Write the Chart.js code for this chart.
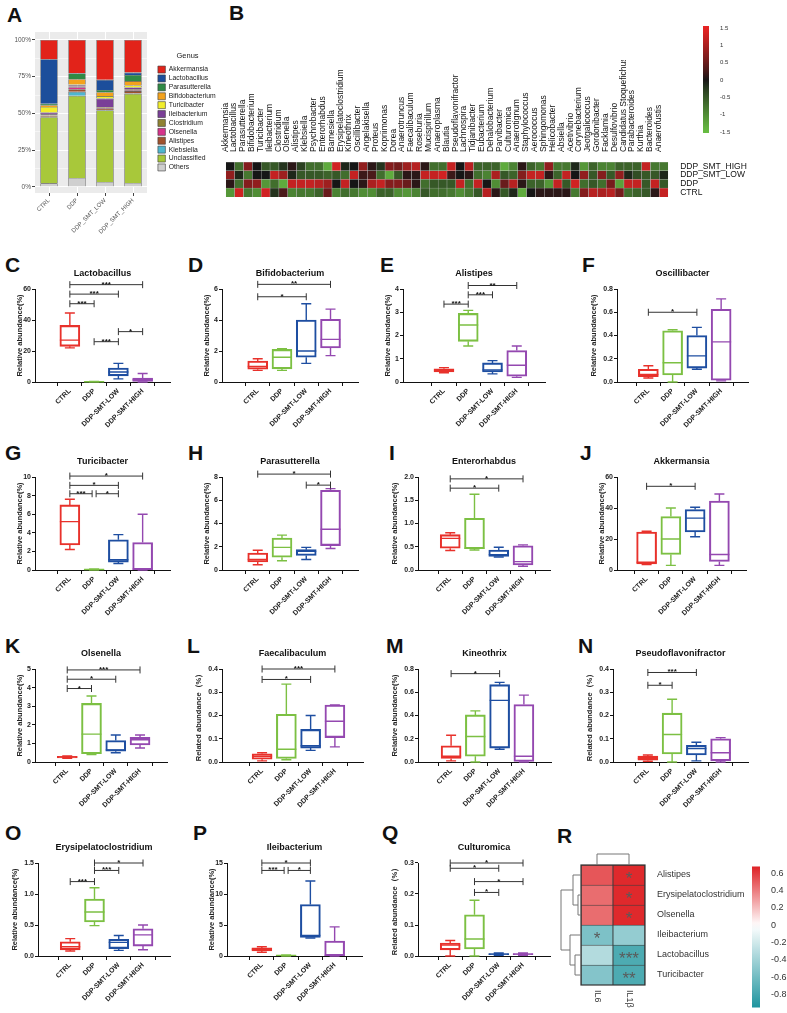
<!DOCTYPE html>
<html>
<head>
<meta charset="utf-8">
<script src="https://cdn.jsdelivr.net/npm/chart.js@4.4.1/dist/chart.umd.min.js"></script>
<style>
  html, body { margin: 0; padding: 0; background: #fff; }
  body { position: relative; width: 787px; height: 1013px; overflow: hidden; font-family: "Liberation Sans", Arial, sans-serif; }
  canvas { position: absolute; }
  .tag { position: absolute; font-weight: bold; font-size: 21px; line-height: 21px; color: #111; }
</style>
</head>
<body>
<div class="tag" style="left:7px;top:4px">A</div>
<div class="tag" style="left:229px;top:2px">B</div>
<div class="tag" style="left:5px;top:254px">C</div>
<div class="tag" style="left:188px;top:254px">D</div>
<div class="tag" style="left:380px;top:254px">E</div>
<div class="tag" style="left:582px;top:254px">F</div>
<div class="tag" style="left:5px;top:442px">G</div>
<div class="tag" style="left:188px;top:442px">H</div>
<div class="tag" style="left:389px;top:442px">I</div>
<div class="tag" style="left:580px;top:442px">J</div>
<div class="tag" style="left:5px;top:635px">K</div>
<div class="tag" style="left:187px;top:635px">L</div>
<div class="tag" style="left:386px;top:635px">M</div>
<div class="tag" style="left:578px;top:635px">N</div>
<div class="tag" style="left:5px;top:822px">O</div>
<div class="tag" style="left:193px;top:822px">P</div>
<div class="tag" style="left:382px;top:822px">Q</div>
<div class="tag" style="left:557px;top:825px">R</div>
<script>
// ---- A: genus composition (% per group), stacked bottom -> top
const aGroups = ['CTRL', 'DDP', 'DDP_SMT_LOW', 'DDP_SMT_HIGH'];
const pctOthers = [2.5, 6.1, 3.4, 2.7];
const pctUnclassified = [45.0, 55.9, 48.6, 60.6];
const pctKlebsiella = [0.2, 2.7, 0.3, 0.2];
const pctAlistipes = [0.8, 1.8, 0.9, 1.7];
const pctOlsenella = [0.1, 1.4, 0.5, 0.6];
const pctClostridium = [0.8, 0.5, 0.6, 0.6];
const pctIleibacterium = [1.2, 0.8, 5.8, 1.3];
const pctTuricibacter = [3.8, 0.5, 1.7, 1.3];
const pctBifidobacterium = [1.2, 3.6, 2.7, 3.0];
const pctParasutterella = [1.0, 3.9, 1.5, 4.2];
const pctLactobacillus = [30.3, 0.3, 6.9, 1.6];
const pctAkkermansia = [13.1, 22.5, 27.1, 22.2];

// ---- B: z-scores per genus
const genera = ['Akkermansia', 'Lactobacillus', 'Parasutterella', 'Bifidobacterium', 'Turicibacter', 'Ileibacterium',
  'Clostridium', 'Olsenella', 'Alistipes', 'Klebsiella', 'Psychrobacter', 'Enterorhabdus', 'Barnesiella',
  'Erysipelatoclostridium', 'Kineothrix', 'Oscillibacter', 'Angelakisella', 'Proteus', 'Kopriimonas', 'Dorea',
  'Anaerotruncus', 'Faecalibaculum', 'Roseburia', 'Mucispirillum', 'Anaeroplasma', 'Blautia', 'Pseudoflavonifractor',
  'Lachnospira', 'Tidjanibacter', 'Eubacterium', 'Dehalobacterium', 'Parvibacter', 'Culturomica', 'Anaerotignum',
  'Staphylococcus', 'Aerococcus', 'Sphingomonas', 'Helicobacter', 'Absiella', 'Acetivibrio', 'Corynebacterium',
  'Jeotgalicoccus', 'Gordonibacter', 'Facklamia', 'Desulfovibrio', 'Candidatus Stoquefichus', 'Parabacteroides',
  'Kurthia', 'Bacteroides', 'Anaerofustis'];
const hmRows = ['CTRL', 'DDP', 'DDP_SMT_LOW', 'DDP_SMT_HIGH'];
const zCtrl = [-1.1, 1.3, -0.8, -1.0, 1.3, -0.2, 0.3, -0.9, -0.8, -0.8,
  -0.6, 0.5, -0.9, -0.7, -0.8, -1.0, -1.0, -0.6, -0.6, -1.0,
  -1.1, -0.9, -0.5, -0.7, -0.7, -0.8, -1.0, -0.8, -0.5, 1.1,
  0.1, -0.5, -0.1, -1.3, 0, 0.1, 0.1, 0.1, 0.1, -0.8,
  0.7, 1.1, 1.0, 1.1, 0.6, -0.7, -0.6, -0.5, 0.1, 1.2];
const zDdp = [0.1, -0.7, 0.7, 0.8, -1.1, -0.7, -1.3, 1.2, 1.2, 1.2,
  1.1, 0.9, 0, 1.2, 0, 0.1, 1.0, 1.2, 0.7, 0.7,
  0.5, 0.1, -0.7, -0.5, -0.5, -0.5, 1.2, -0.7, 1.2, 0,
  -1.0, 0.5, 1.1, 0.1, -0.6, -0.6, -1.1, 1.2, -0.5, 1.3,
  -0.7, -0.5, -0.7, 0.6, -1.2, 1.2, 1.2, -0.5, 1.2, -0.5];
const zLow = [0.8, -0.1, -0.8, 0, 0, 1.2, 0.9, -0.1, -0.5, -0.5,
  -0.5, -0.6, -0.5, -0.7, 1.2, 0.2, 0.3, -0.7, -1.3, -0.5,
  0.1, 0.1, 1.2, 1.2, 1.3, 0.2, 0, 0.1, -0.7, -0.9,
  1.0, -0.5, -0.6, 0.7, 1.2, 1.2, 0.1, -0.6, 1.2, 0,
  0.8, -0.5, 0.7, -0.5, 0.8, -0.1, -0.4, -0.5, -0.5, -0.1];
const zHigh = [0, -0.7, 0.7, 0, -0.5, -0.5, -0.2, 0.1, -0.3, -0.7,
  -0.7, -1.3, 1.3, -0.1, 0, 0.8, 0.1, -0.2, 0.7, 0.6,
  0.9, 1.1, 0.1, -0.7, -0.7, 1.2, 0, 1.1, -0.6, -0.6,
  -0.6, -1.3, -0.9, 0.1, -0.6, -0.8, 0.8, -0.8, -0.8, -0.1,
  -1.1, -0.6, -0.9, -0.9, -0.6, -0.6, -0.6, 1.2, -0.8, -0.8];
const cbTicksB = [-1.5, -1, -0.5, 0, 0.5, 1, 1.5];

// ---- C..Q: box stats per group [min, q1, median, q3, max]; brackets [from, to, y, label]
const groups = ['CTRL', 'DDP', 'DDP-SMT-LOW', 'DDP-SMT-HIGH'];
const lactobacillusBox = [[22, 23, 27, 36.5, 44.5], [0, 0.1, 0.2, 0.3, 0.4], [2, 4, 6.5, 9, 12], [0, 0.3, 1.5, 2.5, 5.5]];
const lactobacillusSig = [[0, 3, 62.8, '***'], [0, 2, 56.7, '***'], [0, 1, 50.5, '***'], [1, 2, 26, '***'], [2, 3, 32.5, '*']];
const bifidobacteriumBox = [[0.75, 0.82, 1.0, 1.35, 1.5], [0.75, 0.85, 1.6, 2.1, 2.15], [1.2, 1.6, 2.0, 4.0, 5.05], [1.7, 2.2, 2.75, 4.05, 4.7]];
const bifidobacteriumSig = [[0, 3, 6.3, '**'], [0, 2, 5.5, '*']];
const alistipesBox = [[0.4, 0.43, 0.5, 0.57, 0.62], [1.55, 1.75, 2.45, 2.95, 3.08], [0.35, 0.43, 0.52, 0.82, 0.92], [0.2, 0.25, 0.72, 1.35, 1.55]];
const alistipesSig = [[1, 3, 4.15, '**'], [1, 2, 3.75, '***'], [0, 1, 3.35, '***']];
const oscillibacterBox = [[0.035, 0.045, 0.065, 0.11, 0.14], [0, 0.06, 0.165, 0.44, 0.45], [0.11, 0.12, 0.225, 0.4, 0.47], [0.01, 0.015, 0.345, 0.625, 0.715]];
const oscillibacterSig = [[0, 2, 0.6, '*']];
const turicibacterBox = [[2.2, 2.7, 5.2, 7.0, 7.6], [0, 0.02, 0.05, 0.08, 0.1], [0.7, 0.85, 1.1, 3.25, 3.8], [0, 0.02, 0.1, 2.95, 6.0]];
const turicibacterSig = [[0, 3, 10.1, '*'], [0, 2, 9.1, '*'], [0, 1, 8.2, '***'], [1, 2, 8.2, '*']];
const parasutterellaBox = [[0.45, 0.7, 0.9, 1.45, 1.7], [0.8, 1.1, 1.95, 2.75, 3.0], [0.9, 1.25, 1.6, 1.75, 1.95], [1.85, 2.1, 3.5, 6.85, 7.0]];
const parasutterellaSig = [[0, 3, 8.25, '*'], [2, 3, 7.3, '*']];
const enterorhabdusBox = [[0.42, 0.47, 0.68, 0.76, 0.8], [0.43, 0.46, 0.47, 1.11, 1.63], [0.28, 0.29, 0.33, 0.43, 0.49], [0.08, 0.11, 0.18, 0.52, 0.54]];
const enterorhabdusSig = [[0, 3, 1.96, '*'], [0, 2, 1.76, '*']];
const akkermansiaBox = [[3.5, 4, 5, 24.5, 25], [3, 10, 20, 34.5, 40], [21.5, 24.5, 33.5, 39, 40.5], [3, 5.5, 10, 44.5, 49]];
const akkermansiaSig = [[0, 2, 54, '*']];
const olsenellaBox = [[0.2, 0.22, 0.27, 0.3, 0.32], [0.4, 0.45, 1.5, 3.15, 3.55], [0.5, 0.58, 0.65, 1.15, 1.45], [0.75, 0.92, 1.2, 1.32, 1.45]];
const olsenellaSig = [[0, 3, 4.95, '***'], [0, 2, 4.45, '*'], [0, 1, 3.95, '*']];
const faecalibaculumBox = [[0.005, 0.012, 0.025, 0.035, 0.04], [0.01, 0.015, 0.055, 0.205, 0.335], [0.05, 0.06, 0.07, 0.14, 0.2], [0.065, 0.105, 0.175, 0.245, 0.245]];
const faecalibaculumSig = [[0, 3, 0.4, '***'], [0, 2, 0.355, '*']];
const kineothrixBox = [[0.01, 0.03, 0.05, 0.14, 0.23], [0, 0.05, 0.22, 0.405, 0.44], [0.11, 0.12, 0.53, 0.665, 0.685], [0, 0.005, 0.05, 0.495, 0.575]];
const kineothrixSig = [[0, 2, 0.76, '*']];
const pseudoflavonifractorBox = [[0.003, 0.008, 0.015, 0.025, 0.03], [0, 0.035, 0.118, 0.21, 0.27], [0.005, 0.03, 0.058, 0.072, 0.085], [0, 0.005, 0.04, 0.1, 0.105]];
const pseudoflavonifractorSig = [[0, 2, 0.385, '***'], [0, 1, 0.33, '*']];
const erysipelatoclostridiumBox = [[0.08, 0.1, 0.15, 0.23, 0.28], [0.49, 0.55, 0.71, 0.92, 1.1], [0.09, 0.12, 0.22, 0.27, 0.33], [0.1, 0.16, 0.34, 0.44, 0.5]];
const erysipelatoclostridiumSig = [[1, 3, 1.5, '*'], [1, 2, 1.38, '***'], [0, 1, 1.2, '***']];
const ileibacteriumBox = [[0.6, 0.8, 1.1, 1.3, 1.5], [0, 0.05, 0.1, 0.12, 0.15], [2.9, 3.0, 3.3, 8.3, 12.1], [0, 0.05, 0.1, 2.4, 4.7]];
const ileibacteriumSig = [[0, 2, 15, '*'], [0, 1, 13.8, '***'], [1, 2, 13.8, '*']];
const culturomicaBox = [[0, 0.02, 0.035, 0.042, 0.05], [0, 0.023, 0.055, 0.133, 0.18], [0.002, 0.004, 0.006, 0.008, 0.01], [0.002, 0.004, 0.006, 0.008, 0.01]];
const culturomicaSig = [[0, 3, 0.3, '*'], [0, 2, 0.283, '*'], [1, 3, 0.24, '*'], [1, 2, 0.205, '*']];

// ---- R: correlation with cytokines
const rGenera = ['Alistipes', 'Erysipelatoclostridium', 'Olsenella', 'Ileibacterium', 'Lactobacillus', 'Turicibacter'];
const rCytokines = ['IL6', 'IL1β'];
const rIL6 = [0.52, 0.45, 0.45, -0.55, -0.32, -0.52];
const rIL1b = [0.66, 0.66, 0.66, -0.45, -0.75, -0.75];
const rStarsIL6 = ['', '', '', '*', '', ''];
const rStarsIL1b = ['*', '*', '*', '', '***', '**'];
const cbTicksR = [-0.8, -0.6, -0.4, -0.2, 0, 0.2, 0.4, 0.6];

// ------------------------------------------------------------------
Chart.defaults.font.family = '"Liberation Sans", Arial, sans-serif';
Chart.defaults.animation = false;
Chart.defaults.responsive = false;
Chart.defaults.events = [];
Chart.defaults.plugins.legend.display = false;
Chart.defaults.plugins.tooltip.enabled = false;

function addCanvas(left, top, w, h) {
  const c = document.createElement('canvas');
  c.width = Math.round(w); c.height = Math.round(h);
  c.style.left = Math.round(left) + 'px';
  c.style.top = Math.round(top) + 'px';
  document.body.appendChild(c);
  return c;
}

function mix(a, b, t) {
  return 'rgb(' + a.map((v, i) => Math.round(v + (b[i] - v) * t)).join(',') + ')';
}
function colorB(v) {
  const t = Math.pow(Math.min(1, Math.abs(v) / 1.5), 0.85);
  return mix([22, 22, 22], v < 0 ? [104, 190, 66] : [232, 36, 36], t);
}
function colorR(v) {
  return v >= 0 ? mix([255, 255, 255], [222, 34, 38], Math.min(1, v / 0.68))
                : mix([255, 255, 255], [30, 148, 158], Math.min(1, -v / 0.95));
}

// ---- panel A
const genusColors = {
  Akkermansia: '#e2231a', Lactobacillus: '#1c4e9b', Parasutterella: '#2f8a45', Bifidobacterium: '#f3a21c',
  Turicibacter: '#f2ee2c', Ileibacterium: '#7a3f97', Clostridium: '#8f8232', Olsenella: '#d6338b',
  Alistipes: '#a0522d', Klebsiella: '#4eb6cf', Unclassified: '#a8c83a', Others: '#cfcfcf'
};
const aSeries = [['Others', pctOthers], ['Unclassified', pctUnclassified], ['Klebsiella', pctKlebsiella],
  ['Alistipes', pctAlistipes], ['Olsenella', pctOlsenella], ['Clostridium', pctClostridium],
  ['Ileibacterium', pctIleibacterium], ['Turicibacter', pctTuricibacter], ['Bifidobacterium', pctBifidobacterium],
  ['Parasutterella', pctParasutterella], ['Lactobacillus', pctLactobacillus], ['Akkermansia', pctAkkermansia]];

const panelBg = {
  id: 'panelBg',
  beforeDraw(chart, args, opts) {
    const { ctx, chartArea: a } = chart;
    ctx.save();
    ctx.fillStyle = opts.color;
    ctx.fillRect(a.left, a.top, a.width, a.height);
    ctx.restore();
  }
};

new Chart(addCanvas(0, 0, 221, 250), {
  type: 'bar',
  data: {
    labels: aGroups,
    datasets: aSeries.map(([name, vals]) => ({
      label: name, data: vals, backgroundColor: genusColors[name],
      borderColor: '#3a3a3a', borderWidth: 0.6, barPercentage: 0.62, categoryPercentage: 1
    }))
  },
  options: {
    layout: { padding: { top: 32, right: 2 } },
    plugins: {
      panelBg: { color: '#ebebeb' },
      legend: {
        display: true, position: 'right', fullSize: false, reverse: true, maxWidth: 63, align: 'center',
        title: { display: true, text: 'Genus', color: '#222', font: { size: 7.5 }, padding: { top: 0, bottom: 3 } },
        labels: { boxWidth: 7.5, boxHeight: 7, padding: 1.9, color: '#222', font: { size: 6.8 } }
      }
    },
    scales: {
      x: {
        stacked: true,
        grid: { color: '#fff', offset: false, tickLength: 3, tickColor: '#444' },
        border: { display: false },
        ticks: { minRotation: 45, maxRotation: 45, color: '#555', font: { size: 6 }, padding: 1 },
        afterFit: s => { s.height = 57; }
      },
      y: {
        stacked: true, min: -4.1, max: 105.4,
        afterBuildTicks: s => { s.ticks = [0, 12.5, 25, 37.5, 50, 62.5, 75, 87.5, 100].map(v => ({ value: v })); },
        ticks: { autoSkip: false, callback: v => (v % 25 === 0 ? v + '%' : ''), color: '#555', font: { size: 6.5 }, padding: 1 },
        grid: {
          color: '#fff', tickLength: 3,
          lineWidth: c => (c.tick && c.tick.value % 25 === 0 ? 1 : 0.5),
          tickColor: c => (c.tick && c.tick.value % 25 === 0 ? '#444' : 'rgba(0,0,0,0)')
        },
        border: { display: false },
        afterFit: s => { s.width = 35; }
      },
      yPad: {
        position: 'right', grid: { display: false }, border: { display: false }, ticks: { display: false },
        afterFit: s => { s.width = 9; }
      }
    }
  },
  plugins: [panelBg]
});

// ---- panel B heatmap
const hmVals = [zCtrl, zDdp, zLow, zHigh];
new Chart(addCanvas(218, 60, 569, 146), {
  type: 'bar',
  data: {
    labels: genera,
    datasets: hmRows.map((r, k) => ({
      label: r, data: hmVals[k].map(() => 1), backgroundColor: hmVals[k].map(colorB),
      borderColor: '#b4b4b4', borderWidth: 0.5, barPercentage: 1, categoryPercentage: 1
    }))
  },
  options: {
    layout: { padding: { left: 6.7, bottom: 6 } },
    scales: {
      x: {
        position: 'top', stacked: true, grid: { display: false }, border: { display: false },
        ticks: { autoSkip: false, minRotation: 90, maxRotation: 90, labelOffset: 5.1, color: '#111', font: { size: 8.5 }, padding: 2 },
        afterFit: s => { s.height = 102; }
      },
      y: {
        position: 'right', stacked: true, min: 0, max: 4,
        afterBuildTicks: s => { s.ticks = hmRows.map((r, k) => ({ value: k + 0.5 })); },
        ticks: { autoSkip: false, callback: v => hmRows[Math.floor(v)], color: '#111', font: { size: 8.5 }, padding: 4 },
        grid: { display: false }, border: { display: false },
        afterFit: s => { s.width = 118.8; }
      }
    }
  }
});

function colorBar(left, top, width, height, lo, hi, tickVals, colorFn, fontSize, axisW) {
  const pad = 8;
  new Chart(addCanvas(left, top - pad, width + axisW, height + 2 * pad), {
    type: 'bar',
    data: {
      labels: [''],
      datasets: [{
        data: [[lo, hi]], barPercentage: 1, categoryPercentage: 1, borderWidth: 0,
        backgroundColor: c => {
          const ch = c.chart;
          if (!ch.chartArea) return null;
          const y = ch.scales.y;
          const g = ch.ctx.createLinearGradient(0, y.getPixelForValue(lo), 0, y.getPixelForValue(hi));
          for (let k = 0; k <= 20; k++) g.addColorStop(k / 20, colorFn(lo + (hi - lo) * k / 20));
          return g;
        }
      }]
    },
    options: {
      layout: { padding: { top: pad, bottom: pad } },
      scales: {
        x: { display: false },
        y: {
          position: 'right', min: lo, max: hi,
          afterBuildTicks: s => { s.ticks = tickVals.map(v => ({ value: v })); },
          ticks: { autoSkip: false, callback: v => String(v), color: '#333', font: { size: fontSize }, padding: 3 },
          grid: { display: false }, border: { display: false },
          afterFit: s => { s.width = axisW; }
        }
      }
    }
  });
}
colorBar(703, 26, 6, 107, -1.53, 1.56, cbTicksB, colorB, 6, 24);

// ---- box plots C..Q
const groupColors = ['#e8312b', '#7cc043', '#1e4ea1', '#9448b0'];
const relTitle = 'Relative abundance(%)';
const relTitle2 = 'Related abundance（%）';
const boxPanels = [
  { tag: 'C', title: 'Lactobacillus', stats: lactobacillusBox, sig: lactobacillusSig, yMax: 60, yStep: 20, dec: 0, yTitle: relTitle },
  { tag: 'D', title: 'Bifidobacterium', stats: bifidobacteriumBox, sig: bifidobacteriumSig, yMax: 6, yStep: 2, dec: 0, yTitle: relTitle },
  { tag: 'E', title: 'Alistipes', stats: alistipesBox, sig: alistipesSig, yMax: 4, yStep: 1, dec: 0, yTitle: relTitle },
  { tag: 'F', title: 'Oscillibacter', stats: oscillibacterBox, sig: oscillibacterSig, yMax: 0.8, yStep: 0.2, dec: 1, yTitle: relTitle },
  { tag: 'G', title: 'Turicibacter', stats: turicibacterBox, sig: turicibacterSig, yMax: 10, yStep: 2, dec: 0, yTitle: relTitle },
  { tag: 'H', title: 'Parasutterella', stats: parasutterellaBox, sig: parasutterellaSig, yMax: 8, yStep: 2, dec: 0, yTitle: relTitle },
  { tag: 'I', title: 'Enterorhabdus', stats: enterorhabdusBox, sig: enterorhabdusSig, yMax: 2, yStep: 0.5, dec: 1, yTitle: relTitle },
  { tag: 'J', title: 'Akkermansia', stats: akkermansiaBox, sig: akkermansiaSig, yMax: 60, yStep: 20, dec: 0, yTitle: relTitle },
  { tag: 'K', title: 'Olsenella', stats: olsenellaBox, sig: olsenellaSig, yMax: 5, yStep: 1, dec: 0, yTitle: relTitle },
  { tag: 'L', title: 'Faecalibaculum', stats: faecalibaculumBox, sig: faecalibaculumSig, yMax: 0.4, yStep: 0.1, dec: 1, yTitle: relTitle2 },
  { tag: 'M', title: 'Kineothrix', stats: kineothrixBox, sig: kineothrixSig, yMax: 0.8, yStep: 0.2, dec: 1, yTitle: relTitle },
  { tag: 'N', title: 'Pseudoflavonifractor', stats: pseudoflavonifractorBox, sig: pseudoflavonifractorSig, yMax: 0.4, yStep: 0.1, dec: 1, yTitle: relTitle2 },
  { tag: 'O', title: 'Erysipelatoclostridium', stats: erysipelatoclostridiumBox, sig: erysipelatoclostridiumSig, yMax: 1.5, yStep: 0.5, dec: 1, yTitle: relTitle },
  { tag: 'P', title: 'Ileibacterium', stats: ileibacteriumBox, sig: ileibacteriumSig, yMax: 15, yStep: 5, dec: 0, yTitle: relTitle },
  { tag: 'Q', title: 'Culturomica', stats: culturomicaBox, sig: culturomicaSig, yMax: 0.3, yStep: 0.1, dec: 1, yTitle: relTitle2 }
];
// axis x, first category centre, top tick y
const boxLayout = {
  C: { ax: 35, c0: 59, ty: 289 }, D: { ax: 222, c0: 247, ty: 289 }, E: { ax: 403, c0: 434, ty: 289 }, F: { ax: 617, c0: 637, ty: 289 },
  G: { ax: 35, c0: 59, ty: 477 }, H: { ax: 222, c0: 247, ty: 477 }, I: { ax: 418, c0: 439, ty: 477 }, J: { ax: 617, c0: 635, ty: 477 },
  K: { ax: 35, c0: 56, ty: 669 }, L: { ax: 222, c0: 252, ty: 669 }, M: { ax: 418, c0: 440, ty: 669 }, N: { ax: 613, c0: 637, ty: 669 },
  O: { ax: 38, c0: 59, ty: 863 }, P: { ax: 227, c0: 251, ty: 863 }, Q: { ax: 418, c0: 439, ty: 863 }
};
const SP = 32.4, PH = 93, YW = 34, TOPH = 30, XH = 56, PR = 14, TAIL = 14;

const boxPlugin = {
  id: 'boxWhiskers',
  afterDatasetsDraw(chart, args, opts) {
    const { ctx, scales: { x, y } } = chart;
    ctx.save();
    ctx.lineWidth = 1.4;
    opts.stats.forEach((s, i) => {
      const cx = x.getPixelForValue(i);
      const py = s.map(v => y.getPixelForValue(v));
      ctx.strokeStyle = groupColors[i];
      ctx.beginPath();
      ctx.moveTo(cx, py[3]); ctx.lineTo(cx, py[4]);
      ctx.moveTo(cx - 5, py[4]); ctx.lineTo(cx + 5, py[4]);
      ctx.moveTo(cx, py[1]); ctx.lineTo(cx, py[0]);
      ctx.moveTo(cx - 5, py[0]); ctx.lineTo(cx + 5, py[0]);
      ctx.moveTo(cx - 10, py[2]); ctx.lineTo(cx + 10, py[2]);
      ctx.stroke();
    });
    ctx.strokeStyle = '#333';
    ctx.fillStyle = '#111';
    ctx.lineWidth = 1;
    ctx.font = 'bold 8px "Liberation Sans", Arial, sans-serif';
    ctx.textAlign = 'center';
    ctx.textBaseline = 'alphabetic';
    opts.sig.forEach(([a, b, v, label]) => {
      const shared = opts.sig.filter(o => o[2] === v);
      let x1 = x.getPixelForValue(a), x2 = x.getPixelForValue(b);
      if (shared.some(o => o[0] === b)) x2 -= 2;
      if (shared.some(o => o[1] === a)) x1 += 2;
      const yy = y.getPixelForValue(v);
      ctx.beginPath();
      ctx.moveTo(x1, yy); ctx.lineTo(x2, yy);
      ctx.moveTo(x1, yy - 3.5); ctx.lineTo(x1, yy + 3.5);
      ctx.moveTo(x2, yy - 3.5); ctx.lineTo(x2, yy + 3.5);
      ctx.stroke();
      ctx.fillText(label, (x1 + x2) / 2, yy + 2);
    });
    ctx.restore();
  }
};

boxPanels.forEach(p => {
  const L = boxLayout[p.tag];
  const plotW = (L.c0 - L.ax) + 3 * SP + TAIL;
  const cv = addCanvas(L.ax - YW, L.ty - TOPH, YW + plotW + PR, TOPH + PH + XH);
  const titleOff = p.dec > 0 ? 23 : 15;
  const nTicks = Math.round(p.yMax / p.yStep);
  new Chart(cv, {
    type: 'bar',
    data: {
      datasets: [{
        data: p.stats.map((s, i) => ({ x: i, y: [s[1], s[3]] })),
        backgroundColor: 'rgba(255,255,255,0)', borderColor: groupColors,
        borderWidth: 1.4, borderSkipped: false, barThickness: 20
      }]
    },
    options: {
      layout: { padding: { right: PR } },
      plugins: {
        title: {
          display: true, text: p.title, fullSize: false, color: '#111',
          font: { size: 9, weight: 'bold' }, padding: { top: 9.1, bottom: 10.1 }
        },
        boxWhiskers: { stats: p.stats, sig: p.sig }
      },
      scales: {
        x: {
          type: 'linear', min: -(L.c0 - L.ax) / SP, max: 3 + TAIL / SP,
          afterBuildTicks: s => { s.ticks = groups.map((g, i) => ({ value: i })); },
          ticks: { callback: v => groups[v], autoSkip: false, minRotation: 45, maxRotation: 45, color: '#222', font: { size: 7, weight: 'bold' }, padding: 1 },
          grid: { drawOnChartArea: false, color: '#111', tickLength: 4 },
          border: { color: '#111', width: 1 },
          afterFit: s => { s.height = XH; }
        },
        y: {
          min: 0, max: p.yMax,
          afterBuildTicks: s => { s.ticks = Array.from({ length: nTicks + 1 }, (_, k) => ({ value: k * p.yStep })); },
          ticks: { autoSkip: false, callback: v => v.toFixed(p.dec), color: '#222', font: { size: 7, weight: 'bold' }, padding: 1 },
          grid: { drawOnChartArea: false, color: '#111', tickLength: 3 },
          border: { color: '#111', width: 1 },
          title: { display: true, text: p.yTitle, color: '#222', font: { size: 7.5, weight: 'bold' }, padding: { top: YW - titleOff - 4.5, bottom: 0 } },
          afterFit: s => { s.width = YW; }
        }
      }
    },
    plugins: [boxPlugin]
  });
});

// ---- panel R
const rRowsUp = rGenera.slice().reverse();
const rTree = [[1, 2, 3], [0, 'a', 8], [4, 5, 6], [3, 'c', 11], ['b', 'd', 20]]; // merges: left, right, depth(px)
const rPlugin = {
  id: 'rExtras',
  afterDatasetsDraw(chart) {
    const { ctx, chartArea: a, scales: { x, y } } = chart;
    const rowY = r => y.getPixelForValue(rGenera.length - 1 - r + 0.5);
    ctx.save();
    ctx.strokeStyle = '#333';
    ctx.lineWidth = 1.2;
    ctx.strokeRect(a.left, a.top, a.width, a.height);
    // stars
    ctx.fillStyle = '#5a5a5a';
    ctx.font = '17px "Liberation Sans", Arial, sans-serif';
    ctx.textAlign = 'center';
    ctx.textBaseline = 'alphabetic';
    rGenera.forEach((g, r) => {
      if (rStarsIL6[r]) ctx.fillText(rStarsIL6[r], x.getPixelForValue(0), rowY(r) + 9);
      if (rStarsIL1b[r]) ctx.fillText(rStarsIL1b[r], x.getPixelForValue(1), rowY(r) + 9);
    });
    // column labels, reading downwards
    ctx.fillStyle = '#333';
    ctx.font = '9px "Liberation Sans", Arial, sans-serif';
    ctx.textAlign = 'left';
    ctx.textBaseline = 'middle';
    rCytokines.forEach((c, i) => {
      ctx.save();
      ctx.translate(x.getPixelForValue(i), a.bottom + 5);
      ctx.rotate(Math.PI / 2);
      ctx.fillText(c, 0, 0);
      ctx.restore();
    });
    // row dendrogram
    ctx.strokeStyle = '#777';
    ctx.lineWidth = 1;
    const nodes = {};
    rGenera.forEach((g, r) => { nodes[r] = { x: a.left, y: rowY(r) }; });
    const names = ['a', 'b', 'c', 'd', 'e'];
    rTree.forEach(([l, r, d], k) => {
      const n1 = nodes[l], n2 = nodes[r], mx = a.left - d;
      ctx.beginPath();
      ctx.moveTo(n1.x, n1.y); ctx.lineTo(mx, n1.y); ctx.lineTo(mx, n2.y); ctx.lineTo(n2.x, n2.y);
      ctx.stroke();
      nodes[names[k]] = { x: mx, y: (n1.y + n2.y) / 2 };
    });
    // column dendrogram
    const c0 = x.getPixelForValue(0), c1 = x.getPixelForValue(1);
    ctx.beginPath();
    ctx.moveTo(c0, a.top); ctx.lineTo(c0, a.top - 11); ctx.lineTo(c1, a.top - 11); ctx.lineTo(c1, a.top);
    ctx.stroke();
    ctx.restore();
  }
};
new Chart(addCanvas(500, 830, 250, 183), {
  type: 'bar',
  data: {
    labels: rCytokines,
    datasets: rRowsUp.map(g => {
      const r = rGenera.indexOf(g);
      return {
        label: g, data: [1, 1], backgroundColor: [colorR(rIL6[r]), colorR(rIL1b[r])],
        borderColor: '#3c3c3c', borderWidth: 0.8, barPercentage: 1, categoryPercentage: 1
      };
    })
  },
  options: {
    layout: { padding: { left: 81, top: 35 } },
    scales: {
      x: {
        stacked: true, grid: { display: false }, border: { display: false },
        ticks: { display: false },
        afterFit: s => { s.height = 28; }
      },
      y: {
        position: 'right', stacked: true, min: 0, max: 6,
        afterBuildTicks: s => { s.ticks = rRowsUp.map((g, k) => ({ value: k + 0.5 })); },
        ticks: { autoSkip: false, callback: v => rRowsUp[Math.floor(v)], color: '#333', font: { size: 9 }, padding: 4 },
        grid: { display: false }, border: { display: false },
        afterFit: s => { s.width = 105; }
      }
    }
  },
  plugins: [rPlugin]
});
colorBar(752, 866, 8, 142, -0.95, 0.68, cbTicksR, colorR, 9, 30);
</script>
</body>
</html>
